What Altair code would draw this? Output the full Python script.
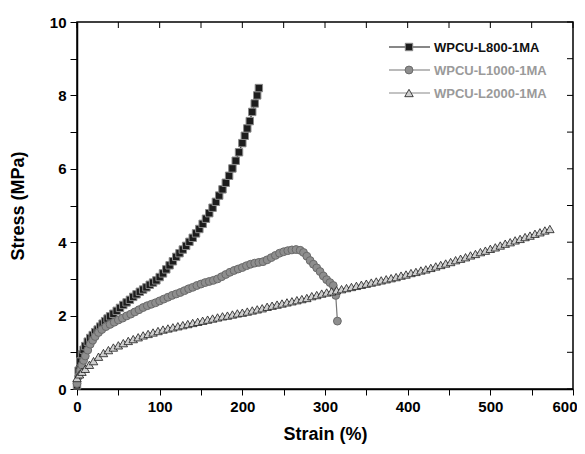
import altair as alt
import pandas as pd

# ---- data ----
names = ["WPCU-L800-1MA", "WPCU-L1000-1MA", "WPCU-L2000-1MA"]

strain_800 = [0, 2, 4, 6, 8, 10, 13, 16, 19, 22, 25, 28, 31, 34, 37, 40, 44, 48, 52, 56, 60,
              64, 68, 72, 76, 80, 84, 88, 92, 96, 100, 104, 108, 112, 116, 120, 124, 128,
              132, 136, 140, 144, 148, 152, 156, 160, 164, 168, 172, 176, 180, 184, 188,
              192, 196, 200, 203, 206, 209, 212, 215, 218, 220]
stress_800 = [0.1, 0.5, 0.75, 0.95, 1.07, 1.17, 1.29, 1.39, 1.47, 1.55, 1.62, 1.7, 1.78, 1.85,
              1.92, 1.98, 2.05, 2.13, 2.21, 2.29, 2.36, 2.43, 2.51, 2.58, 2.65, 2.71, 2.77,
              2.84, 2.9, 2.96, 3.05, 3.15, 3.26, 3.37, 3.48, 3.6, 3.7, 3.8, 3.9, 4.01,
              4.12, 4.24, 4.36, 4.5, 4.64, 4.79, 4.94, 5.1, 5.27, 5.44, 5.62, 5.81, 6.01,
              6.22, 6.45, 6.7, 6.9, 7.1, 7.3, 7.55, 7.78, 8.0, 8.2]

strain_1000 = [0, 2, 4, 6, 8, 10, 13, 16, 19, 22, 26, 30, 35, 40, 45, 50, 55, 60, 65, 70, 75,
               80, 85, 90, 95, 100, 105, 110, 115, 120, 125, 130, 135, 140, 145, 150, 155,
               160, 165, 170, 175, 180, 185, 190, 195, 200, 205, 210, 215, 220, 225, 230,
               235, 240, 245, 250, 255, 260, 265, 270, 274, 278, 282, 286, 290, 294, 298,
               302, 306, 310, 313, 315]
stress_1000 = [0.15, 0.35, 0.5, 0.65, 0.78, 0.9, 1.06, 1.22, 1.33, 1.43, 1.54, 1.62, 1.7, 1.76,
               1.82, 1.88, 1.93, 1.99, 2.04, 2.1, 2.16, 2.22, 2.27, 2.31, 2.35, 2.4, 2.45,
               2.5, 2.55, 2.59, 2.63, 2.68, 2.73, 2.77, 2.82, 2.86, 2.9, 2.93, 2.96, 3.0,
               3.06, 3.12, 3.18, 3.23, 3.27, 3.31, 3.36, 3.4, 3.43, 3.45, 3.47, 3.52, 3.58,
               3.64, 3.7, 3.74, 3.77, 3.79, 3.8, 3.78, 3.72, 3.62, 3.5, 3.4, 3.3, 3.2, 3.08,
               2.98, 2.9, 2.82, 2.55, 1.85]

strain_2000 = [0, 3, 6, 10, 15, 20, 26, 32, 38, 44, 50, 56, 62, 68, 74, 80, 86, 92, 98, 104,
               110, 116, 122, 128, 134, 140, 146, 152, 158, 164, 170, 176, 182, 188, 194, 200,
               206, 212, 218, 224, 230, 236, 242, 248, 254, 260, 266, 272, 278, 284, 290, 296,
               302, 308, 314, 320, 326, 332, 338, 344, 350, 356, 362, 368, 374, 380, 386, 392,
               398, 404, 410, 416, 422, 428, 434, 440, 446, 452, 458, 464, 470, 476, 482, 488,
               494, 500, 506, 512, 518, 524, 530, 536, 542, 548, 554, 560, 566, 572]
stress_2000 = [0.3, 0.4, 0.47, 0.55, 0.66, 0.76, 0.88, 0.98, 1.06, 1.13, 1.19, 1.25, 1.31, 1.36,
               1.41, 1.46, 1.5, 1.54, 1.58, 1.62, 1.65, 1.68, 1.71, 1.74, 1.77, 1.8, 1.83, 1.86,
               1.89, 1.92, 1.95, 1.98, 2.0, 2.03, 2.06, 2.08, 2.11, 2.14, 2.17, 2.2, 2.24,
               2.27, 2.3, 2.33, 2.36, 2.39, 2.42, 2.45, 2.48, 2.53, 2.56, 2.6, 2.63, 2.66,
               2.69, 2.72, 2.75, 2.78, 2.81, 2.84, 2.87, 2.9, 2.93, 2.96, 2.99, 3.02, 3.05,
               3.09, 3.12, 3.16, 3.19, 3.23, 3.26, 3.3, 3.34, 3.38, 3.42, 3.46, 3.51, 3.55,
               3.59, 3.64, 3.68, 3.73, 3.77, 3.82, 3.86, 3.91, 3.96, 4.0, 4.05, 4.09, 4.14,
               4.18, 4.23, 4.27, 4.32, 4.36]

x_ticks = list(range(0, 601, 50))
y_ticks = list(range(0, 11, 1))

FONT = "Liberation Sans"
W, H = 496, 367

xs = alt.Scale(domain=[0, 600], nice=False, zero=False)
ys = alt.Scale(domain=[0, 10], nice=False, zero=False)

x_axis = alt.Axis(values=x_ticks, labelExpr="datum.value % 100 === 0 ? datum.label : ''",
                  title="Strain (%)", grid=False, tickSize=6, labelPadding=4,
                  labelFlush=False, labelOverlap=False, labelBound=False, titlePadding=11,
                  labelAlign={"condition": {"test": "datum.value === 600", "value": "right"},
                              "value": "center"},
                  labelOffset={"condition": {"test": "datum.value === 600", "value": 4},
                               "value": 0})
y_axis = alt.Axis(values=y_ticks, labelExpr="datum.value % 2 === 0 ? datum.label : ''",
                  title="Stress (MPa)", grid=False, tickSize=7, labelPadding=4,
                  labelFlush=False, labelOverlap=False, titlePadding=22)

styles = [
    dict(shape="square", fill="#1c1c1c", stroke="#8a8a8a", line="#111111", size=55, sw=1.0),
    dict(shape="circle", fill="#8e8e8e", stroke="#6a6a6a", line="#777777", size=62, sw=1.0),
    dict(shape="triangle-up", fill="#cfcfcf", stroke="#1a1a1a", line="#888888", size=72, sw=0.8),
]
series = [(strain_800, stress_800), (strain_1000, stress_1000), (strain_2000, stress_2000)]

X = alt.X("strain:Q", scale=xs, axis=x_axis)
Y = alt.Y("stress:Q", scale=ys, axis=y_axis)

layers = []
for i, ((sx, sy), st) in enumerate(zip(series, styles)):
    df = pd.DataFrame({"strain": sx, "stress": sy, "sample": names[i]})
    line = alt.Chart(df).mark_line(color=st["line"], strokeWidth=1.2).encode(x=X, y=Y)
    pts = alt.Chart(df).mark_point(shape=st["shape"], filled=True, fill=st["fill"],
                                   stroke=st["stroke"], strokeWidth=st["sw"],
                                   size=st["size"], opacity=1).encode(x=X, y=Y)
    layers += [line, pts]

# inward ticks on top and right frame
top_df = pd.DataFrame({"strain": x_ticks})
top_ticks = alt.Chart(top_df).mark_rule(color="black", strokeWidth=1).encode(
    x=X, y=alt.value(0), y2=alt.value(6))
right_df = pd.DataFrame({"stress": y_ticks})
right_ticks = alt.Chart(right_df).mark_rule(color="black", strokeWidth=1).encode(
    y=Y, x=alt.value(W - 6), x2=alt.value(W))
layers += [top_ticks, right_ticks]

# legend (line - marker - line, label)
leg_y = [25, 48, 71]
label_colors = ["#111111", "#9a9a9a", "#9a9a9a"]
for i, st in enumerate(styles):
    ldf = pd.DataFrame({"sample": [names[i]]})
    layers.append(alt.Chart(ldf).mark_rule(color=st["line"], strokeWidth=1.2).encode(
        x=alt.value(312), x2=alt.value(353), y=alt.value(leg_y[i])))
    layers.append(alt.Chart(ldf).mark_point(shape=st["shape"], filled=True, fill=st["fill"],
                                            stroke=st["stroke"], strokeWidth=st["sw"],
                                            size=st["size"], opacity=1).encode(
        x=alt.value(332), y=alt.value(leg_y[i])))
    layers.append(alt.Chart(ldf).mark_text(align="left", baseline="middle", font=FONT,
                                           fontSize=13, fontWeight="bold",
                                           color=label_colors[i]).encode(
        x=alt.value(357), y=alt.value(leg_y[i] + 1), text="sample:N"))

chart = alt.layer(*layers).properties(
    width=W, height=H,
    autosize=alt.AutoSizeParams(type="none"),
    padding={"left": 69, "top": 14, "right": 4, "bottom": 57},
).configure_view(stroke="black", strokeWidth=1.5).configure_axis(
    domainColor="black", domainWidth=1.5, tickColor="black", tickWidth=1,
    labelFont=FONT, labelFontSize=15, labelFontWeight="bold", labelColor="black",
    titleFont=FONT, titleFontSize=18, titleFontWeight="bold", titleColor="black",
)

chart.save("out.html", embed_options={"renderer": "svg", "actions": False})
